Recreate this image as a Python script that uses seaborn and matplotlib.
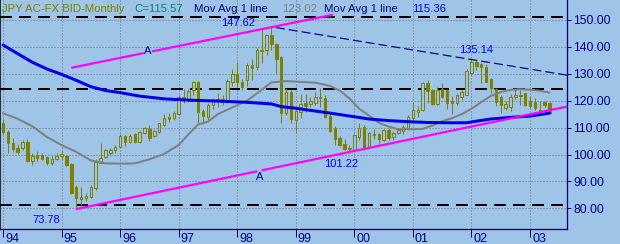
import matplotlib
matplotlib.use("Agg")
import matplotlib.pyplot as plt
import matplotlib.transforms as mtransforms
import numpy as np
import pandas as pd
import seaborn as sns

# ---------------- data (monthly OHLC, Jan 1994 .. May 2003) ----------------
start_year = 1994
opens = [111.6, 108.5, 104.4, 102.5, 102.5, 104.8, 97.7, 99.8, 99.8, 99.2, 96.7, 98.2,
         99.3, 99.4, 96.5, 87.8, 83.3, 83.7, 84.1, 87.4, 97.0, 99.2, 100.5, 101.7,
         102.9, 107.0, 104.7, 107.6, 104.7, 107.9, 109.5, 107.0, 108.5, 111.0, 114.0, 113.5,
         115.0, 121.5, 120.3, 123.8, 127.1, 116.3, 114.0, 118.4, 120.3, 120.6, 119.6, 127.1,
         129.8, 127.1, 127.7, 133.3, 132.6, 138.8, 138.8, 144.4, 141.0, 136.4, 115.3, 123.1,
         112.8, 115.9, 119.3, 118.7, 119.3, 121.4, 120.9, 114.3, 109.7, 106.0, 103.9, 102.0,
         101.7, 106.6, 110.4, 102.9, 107.5, 107.5, 105.4, 109.1, 106.4, 107.9, 108.9, 109.7,
         113.5, 115.9, 116.5, 126.5, 124.0, 118.8, 124.2, 124.0, 119.8, 119.0, 121.5, 122.1,
         130.2, 134.5, 133.5, 132.7, 128.0, 124.2, 121.5, 117.2, 117.8, 121.5, 121.8, 122.7,
         119.9, 119.6, 116.5, 119.6, 119.3]
highs = [113.2, 109.0, 106.2, 104.0, 105.5, 105.6, 100.4, 101.3, 100.6, 99.6, 99.3, 100.7,
         101.3, 99.8, 97.0, 88.5, 88.1, 85.6, 88.8, 98.3, 104.2, 102.2, 102.4, 103.5,
         107.5, 107.4, 107.8, 108.0, 108.9, 110.2, 110.9, 109.2, 111.8, 114.9, 115.3, 116.2,
         122.3, 124.5, 124.3, 127.2, 127.5, 117.0, 119.0, 121.0, 122.7, 122.0, 128.1, 131.6,
         134.5, 128.0, 134.0, 135.5, 139.5, 146.5, 144.6, 147.62, 141.5, 136.6, 124.8, 124.0,
         117.0, 122.5, 122.5, 121.3, 123.3, 124.6, 122.3, 115.8, 110.5, 106.9, 105.6, 103.5,
         107.8, 111.8, 111.0, 108.5, 109.4, 108.0, 109.6, 110.0, 108.8, 109.5, 111.0, 114.8,
         119.6, 118.0, 126.8, 127.7, 124.4, 125.0, 126.5, 124.5, 121.7, 122.5, 124.0, 131.8,
         135.14, 135.0, 133.9, 133.5, 128.3, 124.8, 122.0, 119.8, 122.5, 124.5, 124.0, 123.0,
         121.7, 121.0, 119.8, 119.8, 119.6]
lows = [107.8, 100.7, 101.0, 100.3, 101.5, 97.2, 96.0, 97.4, 98.0, 96.0, 96.2, 98.0,
        98.5, 95.8, 85.5, 80.0, 81.1, 82.8, 83.7, 86.8, 96.7, 98.6, 99.8, 100.6,
        102.8, 103.3, 104.3, 104.3, 104.3, 107.6, 105.0, 106.5, 108.0, 110.6, 112.2, 112.8,
        114.8, 119.3, 119.6, 122.0, 111.6, 111.5, 112.8, 117.0, 117.8, 118.3, 119.3, 125.3,
        125.0, 124.0, 125.5, 127.6, 131.5, 134.0, 137.0, 139.0, 130.0, 111.6, 114.7, 111.7,
        107.9, 113.7, 115.8, 117.5, 118.5, 117.5, 113.5, 108.2, 103.7, 103.0, 101.5, 101.3,
        101.22, 105.5, 101.8, 102.3, 105.7, 104.0, 105.0, 105.5, 105.5, 107.5, 107.8, 109.5,
        112.8, 114.0, 116.1, 119.0, 118.5, 118.5, 121.0, 117.0, 115.1, 118.5, 120.3, 122.0,
        129.5, 131.5, 126.5, 127.0, 122.7, 118.0, 115.5, 116.5, 116.2, 120.5, 118.4, 118.0,
        117.2, 116.5, 115.3, 117.5, 115.0]
closes = [108.5, 104.2, 102.0, 100.8, 104.8, 97.7, 99.6, 98.6, 98.4, 96.7, 98.4, 99.4,
          100.3, 96.2, 85.8, 83.7, 84.3, 84.6, 87.8, 97.3, 98.8, 101.7, 101.7, 102.9,
          107.0, 104.7, 107.0, 104.7, 108.3, 109.7, 106.2, 108.7, 111.6, 113.5, 113.2, 115.5,
          121.5, 120.3, 123.6, 126.8, 115.9, 114.3, 118.4, 120.3, 120.8, 119.6, 127.3, 129.8,
          127.1, 125.2, 133.3, 132.0, 138.8, 138.3, 144.4, 141.0, 135.5, 115.3, 123.3, 113.1,
          116.2, 118.7, 118.0, 120.0, 121.5, 121.0, 113.8, 108.9, 105.8, 103.5, 101.9, 102.3,
          107.2, 110.0, 102.3, 107.9, 107.3, 105.8, 109.1, 106.2, 108.1, 109.1, 110.2, 114.1,
          116.5, 116.7, 126.5, 123.7, 118.8, 124.0, 121.5, 119.0, 119.0, 122.1, 123.3, 131.2,
          134.5, 132.8, 132.5, 127.1, 124.6, 119.6, 118.4, 118.6, 121.3, 122.0, 122.2, 118.4,
          118.1, 117.2, 116.0, 118.4, 115.57]

# moving averages (month index from Jan 1994, value)
gray_ma_month = [0, 3, 6, 9, 12, 15, 18, 21, 24, 27, 30, 33, 36, 38, 40, 42, 44, 47, 50,
                 53, 55, 58, 61, 64, 67, 69, 71, 73, 75, 77, 79, 81, 84, 86, 88, 90, 92,
                 94, 96, 98, 100, 102, 104, 106, 108, 110, 112]
gray_ma_val = [115.3, 113.3, 110.5, 106.5, 103.5, 101.0, 97.8, 96.7, 96.6, 96.7, 98.2,
               100.2, 103.5, 107.5, 111.2, 112.2, 115.0, 117.5, 120.0, 124.0, 126.8,
               127.3, 127.0, 126.7, 125.5, 123.8, 120.8, 117.0, 114.5, 111.8, 110.4,
               109.4, 109.4, 109.5, 110.8, 112.4, 113.5, 115.0, 117.0, 119.5, 121.8,
               123.2, 124.0, 124.3, 124.1, 123.7, 123.02]
blue_ma_month = [0, 3, 6, 9, 12, 15, 18, 21, 24, 28, 33, 38, 45, 50, 55, 57, 60, 63, 67,
                 71, 75, 79, 83, 87, 91, 95, 97, 100, 104, 108, 112]
blue_ma_val = [140.7, 137.5, 134.3, 131.8, 129.8, 127.6, 125.2, 123.8, 123.0, 121.7,
               120.7, 120.2, 119.8, 119.4, 118.8, 117.8, 117.2, 116.4, 115.4, 114.3,
               113.2, 112.6, 112.2, 111.9, 111.8, 111.8, 112.4, 113.2, 113.8, 114.3, 115.36]

# trend lines (decimal year, price)
upper_chan_dates = [1995.18, 1999.62]
upper_chan_vals = [132.3, 151.9]
upper_chan_gap = [1996.39, 1996.56]
lower_chan_dates = [1995.26, 2003.63]
lower_chan_vals = [79.75, 117.8]
lower_chan_gap = [1998.33, 1998.43]
resist_dates = [1998.66, 2003.63]
resist_vals = [147.2, 129.5]
level_lines = [151.3, 124.3, 81.2]

year_ticks = list(range(1994, 2004))
year_labels = ["94", "95", "96", "97", "98", "99", "00", "01", "02", "03"]
price_ticks = [80, 90, 100, 110, 120, 130, 140, 150]

# ---------------- style ----------------
BG = "#9EC4E8"
OLIVE = "#808000"
NAVY = "#000080"
MAGENTA = "#FF00FF"
BLUE = "#0000F0"
GRAY = "#808080"

sns.set_theme(style="white")
plt.rcParams["font.family"] = ["Liberation Sans", "DejaVu Sans"]
plt.rcParams["lines.scale_dashes"] = False
PX = 0.72  # points per pixel at dpi 100

fig = plt.figure(figsize=(6.2, 2.44), dpi=100, facecolor=BG)
ax = fig.add_axes([0, 15 / 244, 567 / 620, 229 / 244])
ax.set_facecolor(BG)

ppy = 58.56  # pixels per year
ax.set_xlim(1994 - 3 / ppy, 1994 + 564 / ppy)
ax.set_ylim(80 - 20.7 / 2.69, 150 + 20 / 2.69)

# grid
ax.set_yticks(price_ticks)
ax.set_yticklabels([f"{v:.2f}" for v in price_ticks])
ax.set_xticks(year_ticks)
ax.set_xticklabels(year_labels)
ax.grid(True, color="#707070", linestyle=(0, (1 * PX, 2 * PX)), linewidth=1 * PX, zorder=1)

# horizontal dashed level lines
for lv in level_lines:
    ax.axhline(lv, color="black", linewidth=2 * PX, linestyle=(0, (12 * PX, 7 * PX)), zorder=2)

# candles
n = len(opens)
t = start_year + np.arange(n) / 12.0
o = np.array(opens); h = np.array(highs); l = np.array(lows); c = np.array(closes)
ax.vlines(t, l, h, color=OLIVE, linewidth=1 * PX, zorder=3)
up = c >= o
bw = 0.042
ax.bar(t[up], (c - o)[up], bottom=o[up], width=bw, facecolor=BG, edgecolor=OLIVE,
       linewidth=1 * PX, zorder=4)
ax.bar(t[~up], (o - c)[~up], bottom=c[~up], width=bw, facecolor=OLIVE, edgecolor=OLIVE,
       linewidth=1 * PX, zorder=4)

# moving averages
gray_df = pd.DataFrame({"date": start_year + np.array(gray_ma_month) / 12.0, "ma": gray_ma_val})
blue_df = pd.DataFrame({"date": start_year + np.array(blue_ma_month) / 12.0, "ma": blue_ma_val})
sns.lineplot(data=gray_df, x="date", y="ma", ax=ax, color=GRAY, linewidth=2 * PX,
             estimator=None, sort=False, legend=False, zorder=5)
sns.lineplot(data=blue_df, x="date", y="ma", ax=ax, color="#0000E8", linewidth=3 * PX,
             estimator=None, sort=False, legend=False, zorder=5)


def channel(dates, vals, gap):
    xs1 = [dates[0], gap[0]]
    xs2 = [gap[1], dates[1]]
    ys1 = list(np.interp(xs1, dates, vals))
    ys2 = list(np.interp(xs2, dates, vals))
    for xs, ys in ((xs1, ys1), (xs2, ys2)):
        sns.lineplot(x=xs, y=ys, ax=ax, color=MAGENTA, linewidth=2.2 * PX,
                     estimator=None, sort=False, legend=False, zorder=6)


channel(upper_chan_dates, upper_chan_vals, upper_chan_gap)
channel(lower_chan_dates, lower_chan_vals, lower_chan_gap)
ax.plot(resist_dates, resist_vals, color=NAVY, linewidth=1.2 * PX,
        linestyle=(0, (9 * PX, 4 * PX)), zorder=6)

# annotations
lab_kw = dict(fontsize=8, color=BLUE, ha="center", va="center", zorder=7)
ax.text(1998.01, 148.9, "147.62", **lab_kw)
ax.text(2002.077, 139.0, "135.14", **lab_kw)
ax.text(1999.772, 96.3, "101.22", **lab_kw)
ax.text(1994.734, 75.65, "73.78", **lab_kw)
ax.text(1996.476, 138.5, "A", fontsize=8, color=NAVY, ha="center", va="center", zorder=7)
ax.text(1998.389, 91.45, "A", fontsize=8, color=NAVY, ha="center", va="center", zorder=7)

# axes / spines
ax.spines["top"].set_visible(False)
ax.spines["right"].set_color(NAVY)
ax.spines["right"].set_linewidth(1.3 * PX)
ax.spines["bottom"].set_color(NAVY)
ax.spines["bottom"].set_linewidth(1.3 * PX)
ax.spines["left"].set_color("black")
ax.spines["left"].set_linewidth(1.5 * PX)

ax.tick_params(axis="y", left=False, right=True, labelleft=False, labelright=True,
               direction="out", length=4 * PX, width=1 * PX, color=NAVY,
               labelcolor=NAVY, labelsize=8.7, pad=1.5)
ax.tick_params(axis="x", bottom=True, direction="out", length=8 * PX, width=1 * PX,
               color=NAVY, labelcolor=NAVY, labelsize=9, pad=-2.8)
offset = mtransforms.ScaledTranslation(2 / 100, 0, fig.dpi_scale_trans)
for lab in ax.get_xticklabels():
    lab.set_horizontalalignment("left")
    lab.set_transform(lab.get_transform() + offset)
ax.set_xlabel("")
ax.set_ylabel("")

# title strip
ty = 1 - 8.5 / 244
tkw = dict(fontsize=8.2, va="center", ha="left")
fig.text(2 / 620, ty, "JPY AC-FX BID-Monthly", color=OLIVE, **tkw)
fig.text(134 / 620, ty, "C=115.57", color="#008080", **tkw)
fig.text(194 / 620, ty, "Mov Avg 1 line", color=NAVY, **tkw)
fig.text(282 / 620, ty, "123.02", color=GRAY, **tkw)
fig.text(324 / 620, ty, "Mov Avg 1 line", color=NAVY, **tkw)
fig.text(412 / 620, ty, "115.36", color="#0000E0", **tkw)

fig.savefig("out.png", dpi=100, facecolor=BG)
